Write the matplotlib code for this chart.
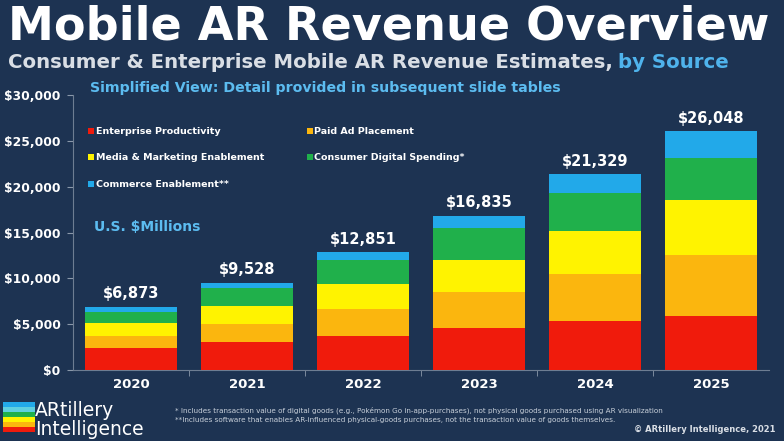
import matplotlib.pyplot as plt
from matplotlib.patches import Patch, Rectangle

plt.rcParams['font.family'] = ['DejaVu Sans']
plt.rcParams['font.weight'] = 'bold'

years = ["2020", "2021", "2022", "2023", "2024", "2025"]
enterprise = [2444, 3020, 3710, 4550, 5330, 5890]
paid_ad = [1315, 2000, 2910, 3960, 5190, 6700]
media = [1315, 1960, 2740, 3490, 4600, 5930]
consumer = [1206, 1930, 2650, 3490, 4170, 4590]
commerce = [593, 618, 841, 1345, 2039, 2938]

series_names = ["Enterprise Productivity", "Paid Ad Placement",
                "Media & Marketing Enablement", "Consumer Digital Spending*",
                "Commerce Enablement**"]
series = [enterprise, paid_ad, media, consumer, commerce]
colors = ["#f01b0c", "#fbb60e", "#fff300", "#20b04b", "#22a9e9"]
y_ticks = [0, 5000, 10000, 15000, 20000, 25000, 30000]

bg = "#1d3352"
fig = plt.figure(figsize=(7.84, 4.41), dpi=100, facecolor=bg)
ax = fig.add_axes([73 / 784, 71 / 441, 696 / 784, 275 / 441])
ax.set_facecolor("none")

x = list(range(len(years)))
bottom = [0] * len(years)
for vals, col in zip(series, colors):
    ax.bar(x, vals, bottom=bottom, width=0.8, color=col, zorder=3)
    bottom = [b + v for b, v in zip(bottom, vals)]

for xi, tot in zip(x, bottom):
    ax.text(xi, tot + 600, "${:,}".format(tot), ha="center", va="bottom",
            color="white", fontsize=10.5, fontweight="bold")

ax.set_xlim(-0.5, len(years) - 0.5)
ax.set_ylim(0, 30000)
ax.set_yticks(y_ticks)
ax.set_yticklabels(["${:,}".format(v) for v in y_ticks])
ax.set_xticks(x)
ax.set_xticklabels(years)
ax.set_xticks([i + 0.5 for i in x[:-1]], minor=True)
ax.tick_params(axis="y", colors="#8a98aa", labelcolor="white", labelsize=8.8, length=4, pad=5)
ax.tick_params(axis="x", which="major", length=0, labelcolor="white", labelsize=9.5, pad=6)
ax.tick_params(axis="x", which="minor", length=4, colors="#8a98aa")
for s in ["top", "right"]:
    ax.spines[s].set_visible(False)
for s in ["left", "bottom"]:
    ax.spines[s].set_color("#6d7d92")
    ax.spines[s].set_linewidth(0.8)

# legend filled row by row
order = [0, 2, 4, 1, 3]
handles = [Patch(facecolor=colors[i], label=series_names[i]) for i in order]
leg = ax.legend(handles=handles, ncol=2, loc="upper left", bbox_to_anchor=(0.01, 0.915),
                frameon=False, fontsize=6.8, handlelength=0.6, handleheight=0.6,
                handletextpad=0.2, columnspacing=4.5, labelspacing=1.86, labelcolor="white")

ax.text(0.03, 0.505, "U.S. $Millions", transform=ax.transAxes, color="#5cbcf0",
        fontsize=10, fontweight="bold")
fig.text(90 / 784, 1 - 88 / 441, "Simplified View: Detail provided in subsequent slide tables",
         color="#5cbcf0", fontsize=10.2, fontweight="bold", va="center")

# titles
fig.text(8 / 784, 1 - 39 / 441, "Mobile AR Revenue Overview", color="white",
         fontsize=33.2, fontweight="bold", va="baseline")
sub = fig.text(8 / 784, 1 - 68 / 441, "Consumer & Enterprise Mobile AR Revenue Estimates,",
               color="#d9dee5", fontsize=14.2, fontweight="bold", va="baseline")
fig.canvas.draw()
bb = sub.get_window_extent()
fig.text(bb.x1 / 784 + 0.006, 1 - 68 / 441, "by Source", color="#4fb3ec",
         fontsize=14.2, fontweight="bold", va="baseline")

# footnotes
fig.text(175 / 784, 1 - 410 / 441,
         "* Includes transaction value of digital goods (e.g., Pok\u00e9mon Go in-app-purchases), "
         "not physical goods purchased using AR visualization",
         color="#c8d0da", fontsize=5.2, fontweight="normal", va="center")
fig.text(175 / 784, 1 - 420 / 441,
         "**Includes software that enables AR-influenced physical-goods purchases, "
         "not the transaction value of goods themselves.",
         color="#c8d0da", fontsize=5.2, fontweight="normal", va="center")
fig.text(776 / 784, 1 - 429 / 441, "\u00a9 ARtillery Intelligence, 2021", color="#d9dee5",
         fontsize=6.0, fontweight="bold", ha="right", va="center")

# logo
stripe_cols = ["#22a9e9", "#5fd0e0", "#20b04b", "#fff300", "#fbb60e", "#f01b0c"]
for i, c in enumerate(stripe_cols):
    fig.patches.append(Rectangle((3 / 784, 1 - (402 + 5 * (i + 1)) / 441), 32 / 784, 5 / 441,
                                 transform=fig.transFigure, facecolor=c, edgecolor="none"))
fig.text(35 / 784, 1 - 416 / 441, "ARtillery", color="white", fontsize=13.5,
         fontweight="normal", va="baseline")
fig.text(35 / 784, 1 - 435 / 441, "Intelligence", color="white", fontsize=13.5,
         fontweight="normal", va="baseline")

fig.savefig("out.png", dpi=100, facecolor=bg)
